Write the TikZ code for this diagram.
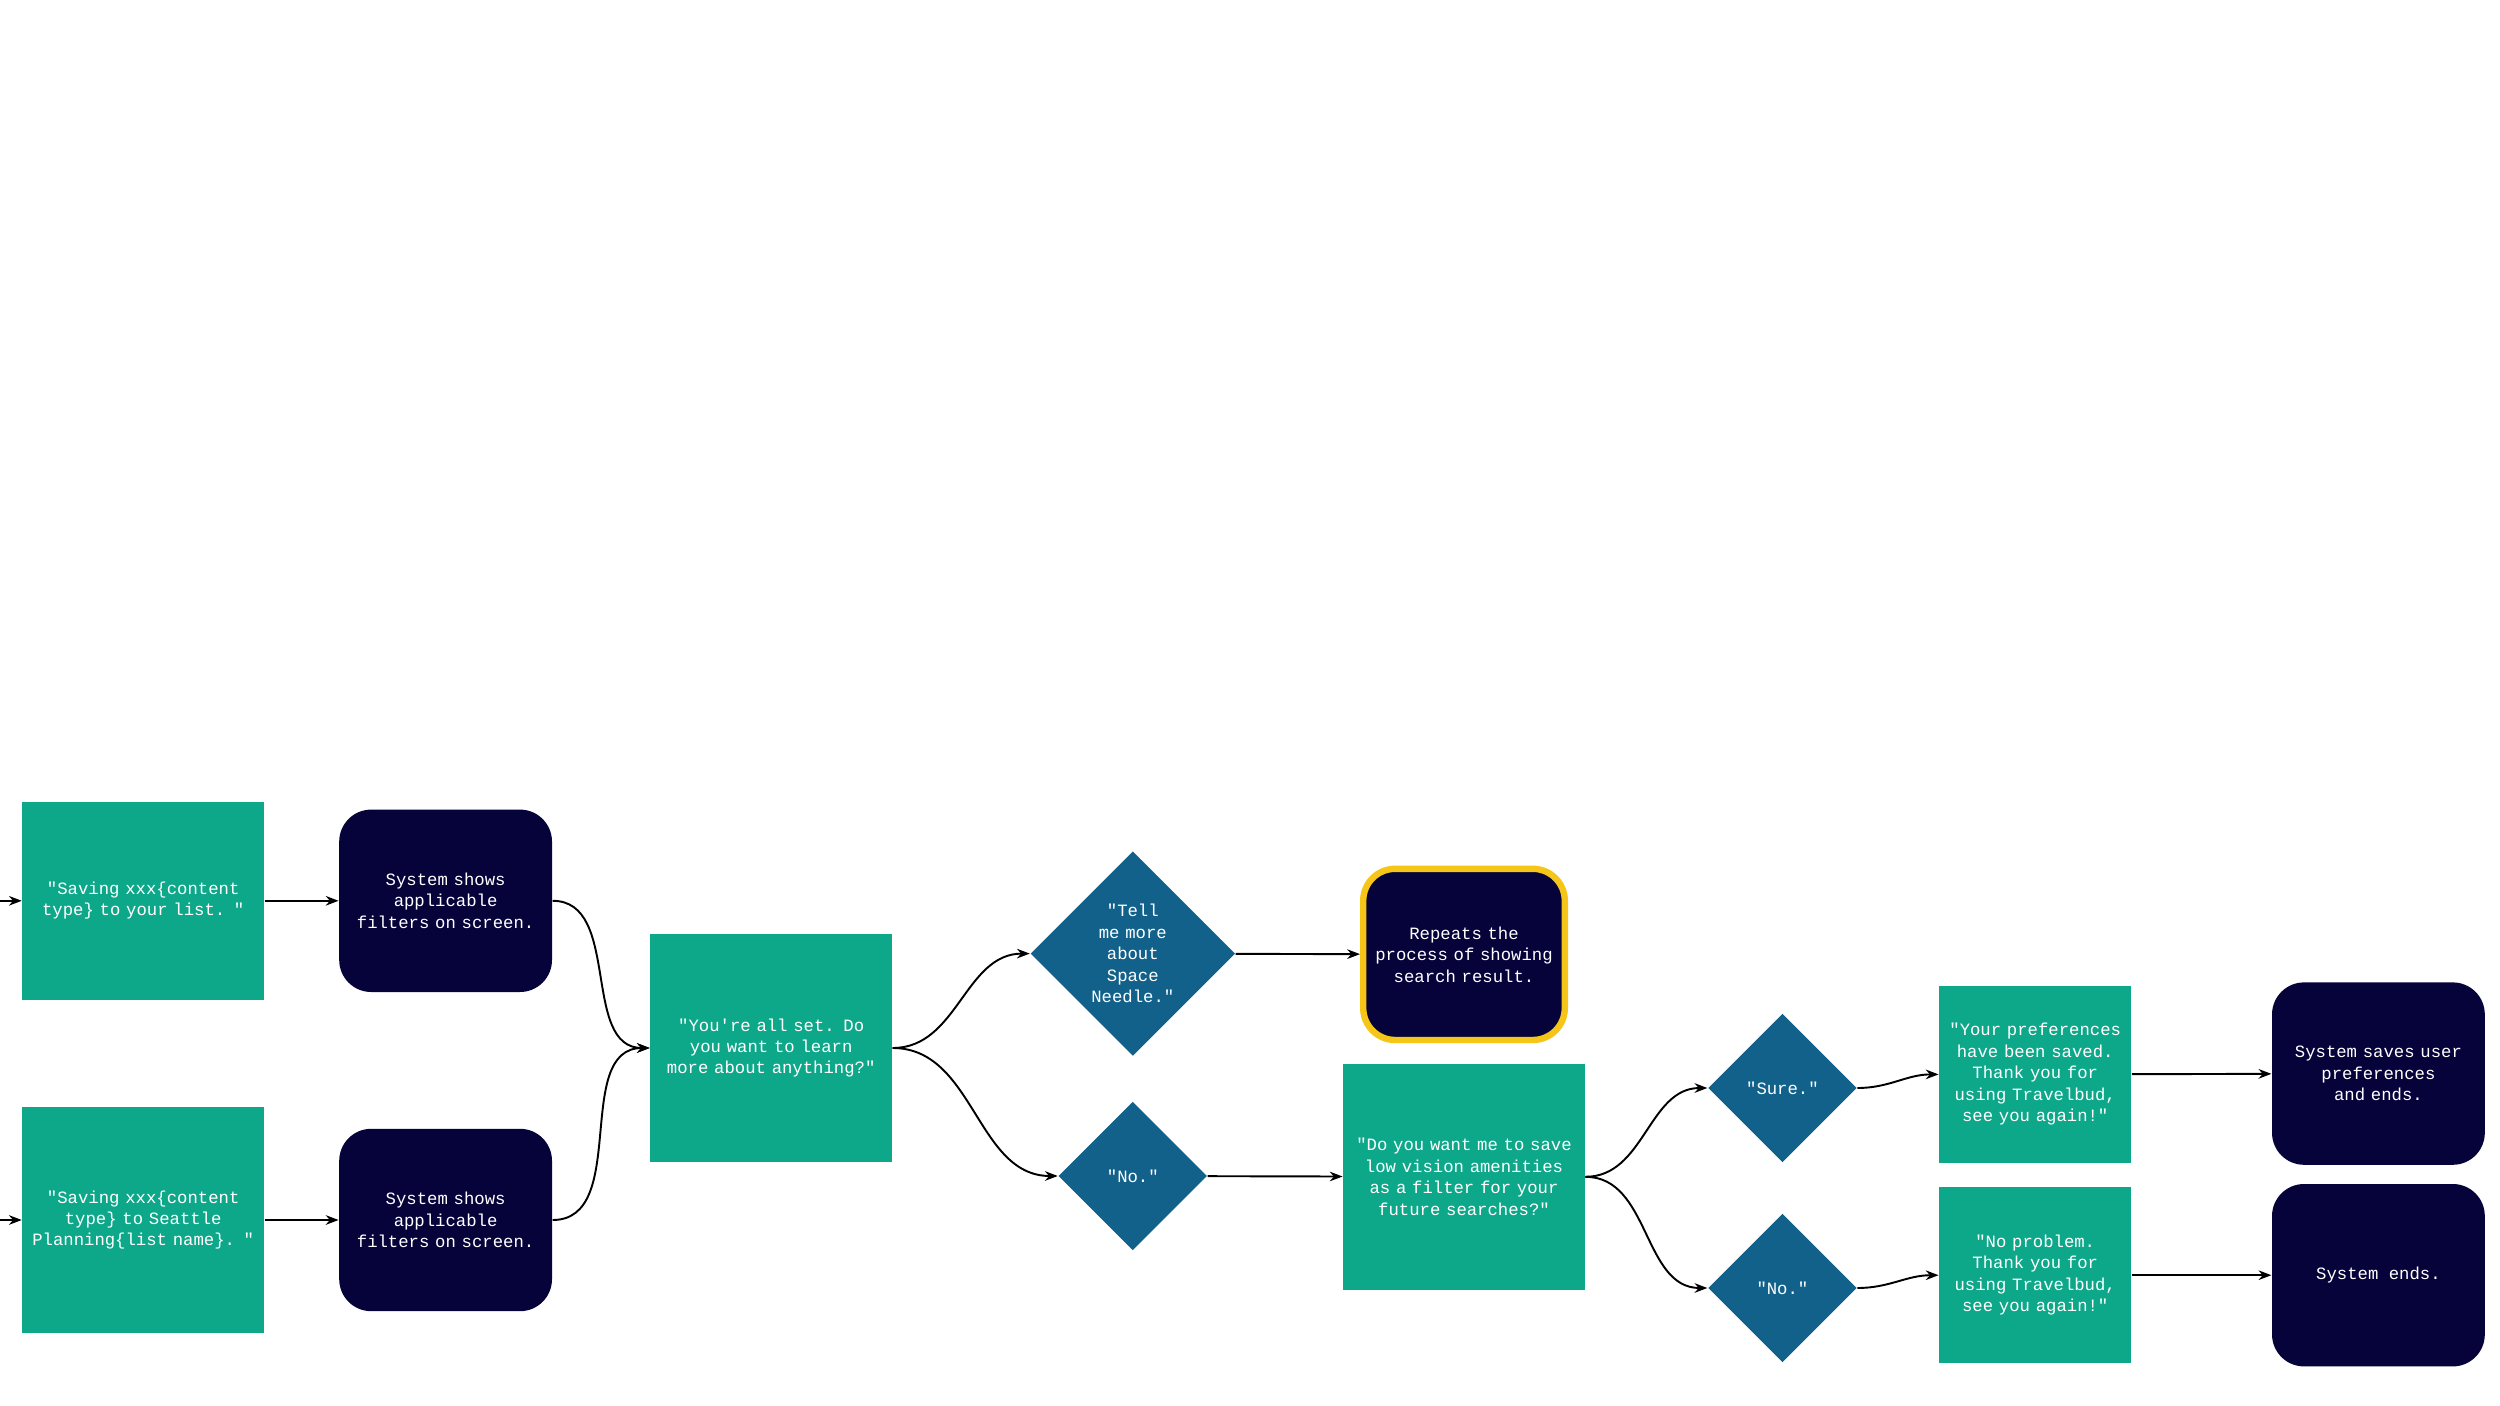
\documentclass[tikz,border=0pt]{standalone}
\usepackage{fontspec}
\setmonofont{Liberation Mono}
\usetikzlibrary{shapes.geometric,arrows.meta}
\definecolor{gr}{RGB}{13,167,137}
\definecolor{nv}{RGB}{6,3,58}
\definecolor{bl}{RGB}{18,97,138}
\definecolor{yl}{RGB}{245,197,24}
\begin{document}
\begin{tikzpicture}[x=0.5pt,y=-0.5pt,
  every node/.style={font=\ttfamily\fontsize{5.4}{6.7}\selectfont,text=white,align=center,inner sep=1pt},
  gbox/.style={rectangle,fill=gr,minimum width=75.5pt,minimum height=#1},
  dbox/.style={rectangle,rounded corners=10pt,fill=nv,minimum width=66.5pt,minimum height=57pt},
  dia/.style={diamond,fill=bl,aspect=1,inner sep=0pt,minimum size=#1},
  arr/.style={-{Stealth[length=4pt,width=3pt]},line width=0.6pt,black}]
\useasboundingbox (0,0) rectangle (1562.5,878.75);
\coordinate (in1) at (0,563);
\coordinate (in2) at (0,762.5);
\node[gbox=62pt,text width=68pt] (g1) at (89.5,563) {"Saving xxx\{content type\} to your list. "};
\node[gbox=70.5pt,text width=72pt] (g2) at (89.5,762.5) {"Saving xxx\{content type\} to Seattle Planning\{list name\}. "};
\node[dbox,text width=60pt] (d1) at (278.5,563) {System shows applicable filters on screen.};
\node[dbox,text width=60pt] (d2) at (278.5,762.5) {System shows applicable filters on screen.};
\node[gbox=71pt,text width=70pt] (g3) at (482,655) {"You're all set. Do you want to learn more about anything?"};
\node[dia=64pt,text width=30pt] (q1) at (708,596) {"Tell me more about Space Needle."};
\node[dia=46.5pt] (q2) at (708,735) {"No."};
\node[dbox,minimum width=63pt,minimum height=53.5pt,draw=yl,line width=2pt,text width=58pt] (r) at (915,596.5) {Repeats the process of showing search result.};
\node[gbox=70.5pt,text width=70pt] (g4) at (915,735.5) {"Do you want me to save low vision amenities as a filter for your future searches?"};
\node[dia=46.5pt] (q3) at (1114,680) {"Sure."};
\node[dia=46.5pt] (q4) at (1114,805) {"No."};
\node[gbox=55.5pt,minimum width=60pt,text width=56pt] (g5) at (1272,671.5) {"Your preferences have been saved. Thank you for using Travelbud, see you again!"};
\node[gbox=55pt,minimum width=60pt,text width=56pt] (g6) at (1272,797) {"No problem. Thank you for using Travelbud, see you again!"};
\node[dbox,text width=60pt] (d3) at (1486.5,671) {System saves user preferences and ends.};
\node[dbox] (d4) at (1486.5,797) {System ends.};
\draw[arr] (in1) -- (g1);
\draw[arr] (in2) -- (g2);
\draw[arr] (g1) -- (d1);
\draw[arr] (g2) -- (d2);
\draw[arr] (d1.east) to[out=0,in=180] (g3.west);
\draw[arr] (d2.east) to[out=0,in=180] (g3.west);
\draw[arr] (g3.east) to[out=0,in=180] (q1.west);
\draw[arr] (g3.east) to[out=0,in=180] (q2.west);
\draw[arr] (q1) -- (r);
\draw[arr] (q2) -- (g4);
\draw[arr] (g4.east) to[out=0,in=180] (q3.west);
\draw[arr] (g4.east) to[out=0,in=180] (q4.west);
\draw[arr] (q3.east) to[out=0,in=180] (g5.west);
\draw[arr] (q4.east) to[out=0,in=180] (g6.west);
\draw[arr] (g5) -- (d3);
\draw[arr] (g6) -- (d4);
\end{tikzpicture}
\end{document}
